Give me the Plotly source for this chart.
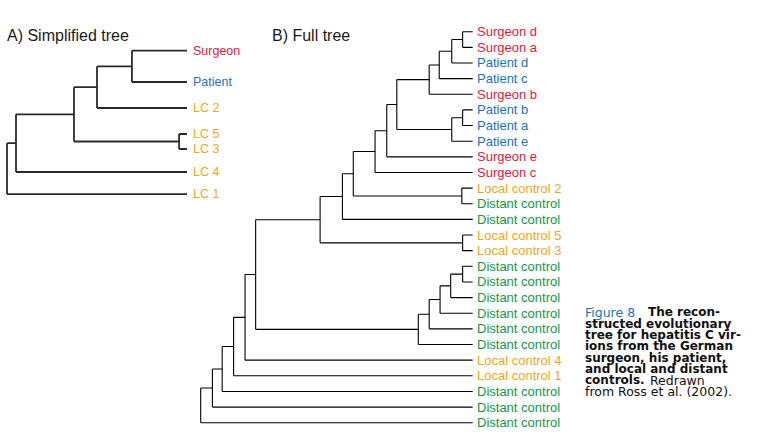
import plotly.graph_objects as go

# ---------------- data ----------------
RED, BLUE, ORANGE, GREEN = "#e2173d", "#1b72bd", "#eea818", "#129848"

# Panel A: simplified tree
a_leaves = ["Surgeon", "Patient", "LC 2", "LC 5", "LC 3", "LC 4", "LC 1"]
a_colors = [RED, BLUE, ORANGE, ORANGE, ORANGE, ORANGE, ORANGE]
a_leaf_rows = [1.215, 3.216, 4.878, 6.541, 7.50, 8.97, 10.38]
# internal nodes: (child1, child2, depth) ; leaves indexed 0..n-1, nodes n..
a_nodes = [(0, 1, 69.4), (7, 2, 50.0), (3, 4, 95.6), (8, 9, 37.2), (10, 5, 5.0), (11, 6, 0.0)]

# Panel B: full tree
b_leaves = ["Surgeon d", "Surgeon a", "Patient d", "Patient c", "Surgeon b",
            "Patient b", "Patient a", "Patient e", "Surgeon e", "Surgeon c",
            "Local control 2", "Distant control", "Distant control",
            "Local control 5", "Local control 3",
            "Distant control", "Distant control", "Distant control",
            "Distant control", "Distant control", "Distant control",
            "Local control 4", "Local control 1",
            "Distant control", "Distant control", "Distant control"]
b_colors = [RED, RED, BLUE, BLUE, RED, BLUE, BLUE, BLUE, RED, RED,
            ORANGE, GREEN, GREEN, ORANGE, ORANGE,
            GREEN, GREEN, GREEN, GREEN, GREEN, GREEN,
            ORANGE, ORANGE, GREEN, GREEN, GREEN]
b_nodes = [(0, 1, 96.3), (26, 2, 92.3), (27, 3, 87.7), (28, 4, 84.0),
           (5, 6, 96.3), (30, 7, 92.3), (29, 31, 72.1), (32, 8, 68.4),
           (33, 9, 64.1), (10, 11, 96.0), (34, 35, 56.1), (36, 12, 52.1),
           (13, 14, 96.3), (37, 38, 43.9), (15, 16, 96.3), (40, 17, 91.9),
           (41, 18, 88.0), (42, 19, 84.0), (43, 20, 80.0), (39, 44, 20.2),
           (45, 21, 16.3), (46, 22, 12.1), (47, 23, 7.9), (48, 24, 4.3),
           (49, 25, 0.0)]
TIP_DEPTH = 100.0

# caption: (text, bold, blue, left x px) per line segment
caption_lines = [
    [("Figure 8", False, True, 585), ("The recon-", True, False, 648.3)],
    [("structed evolutionary", True, False, 585)],
    [("tree for hepatitis C vir-", True, False, 585)],
    [("ions from the German", True, False, 585)],
    [("surgeon, his patient,", True, False, 585)],
    [("and local and distant", True, False, 585)],
    [("controls.", True, False, 585), ("Redrawn", False, False, 649.5)],
    [("from Ross et al. (2002).", False, False, 585)],
]


def tree_segments(leaf_rows, nodes):
    n = len(leaf_rows)
    ys = list(leaf_rows)
    xs = [TIP_DEPTH] * n
    sx, sy = [], []
    for c1, c2, d in nodes:
        y1, y2 = ys[c1], ys[c2]
        sx += [d, d, None]
        sy += [y1, y2, None]
        sx += [d, xs[c1], None, d, xs[c2], None]
        sy += [y1, y1, None, y2, y2, None]
        ys.append((y1 + y2) / 2)
        xs.append(d)
    return sx, sy


fig = go.Figure()

ax, ay = tree_segments(a_leaf_rows, a_nodes)
fig.add_trace(go.Scatter(x=ax, y=ay, mode="lines", xaxis="x", yaxis="y",
                         line=dict(color="#2a2a2a", width=1.8), hoverinfo="skip",
                         showlegend=False))
b_rows = list(range(len(b_leaves)))
bx, by = tree_segments(b_rows, b_nodes)
fig.add_trace(go.Scatter(x=bx, y=by, mode="lines", xaxis="x2", yaxis="y",
                         line=dict(color="#000000", width=1.1), hoverinfo="skip",
                         showlegend=False))

annotations = []
for name, col, r in zip(a_leaves, a_colors, a_leaf_rows):
    annotations.append(dict(x=TIP_DEPTH, y=r, xref="x", yref="y", text=name,
                            showarrow=False, xanchor="left", yanchor="middle",
                            xshift=4, font=dict(family="Liberation Sans, Arial", size=12.5, color=col)))
for name, col, r in zip(b_leaves, b_colors, b_rows):
    annotations.append(dict(x=TIP_DEPTH, y=r, xref="x2", yref="y", text=name,
                            showarrow=False, xanchor="left", yanchor="middle",
                            xshift=2, font=dict(family="Liberation Sans, Arial", size=13, color=col)))

W, H = 759, 440
annotations.append(dict(x=5 / W, y=1 - 35 / H, xref="paper", yref="paper",
                        text="A) Simplified tree", showarrow=False, xanchor="left",
                        yanchor="middle", font=dict(family="Liberation Sans, Arial", size=16, color="#1a1a1a")))
annotations.append(dict(x=270 / W, y=1 - 35 / H, xref="paper", yref="paper",
                        text="B) Full tree", showarrow=False, xanchor="left",
                        yanchor="middle", font=dict(family="Liberation Sans, Arial", size=16, color="#1a1a1a")))

for i, segs in enumerate(caption_lines):
    py = 312.2 + 11.35 * i
    for text, bold, blue, px in segs:
        annotations.append(dict(
            x=(px - 2) / W, y=1 - py / H, xref="paper", yref="paper",
            text=f"<b>{text}</b>" if bold else text, showarrow=False,
            xanchor="left", yanchor="middle",
            font=dict(family="DejaVu Sans", size=12 if bold else 12.5,
                      color=BLUE if blue else "#111111")))

fig.update_layout(
    width=W, height=H,
    margin=dict(l=0, r=0, t=0, b=0),
    paper_bgcolor="white", plot_bgcolor="white",
    xaxis=dict(domain=[1.6 / W, 192.4 / W], range=[-3, 103], visible=False, anchor="y"),
    xaxis2=dict(domain=[195.26 / W, 478.14 / W], range=[-2, 102], visible=False, anchor="y"),
    yaxis=dict(domain=[0, 1], range=[26.105, -2.027], visible=False),
    annotations=annotations,
)

fig.write_html("out.html", config={"displayModeBar": False},
               post_script="document.body.style.margin='0';")
